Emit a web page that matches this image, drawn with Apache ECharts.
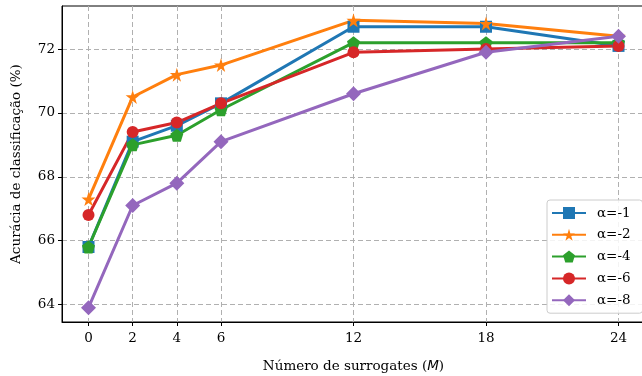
<!DOCTYPE html>
<html>
<head>
<meta charset="utf-8">
<script src="https://cdn.jsdelivr.net/npm/echarts@6/dist/echarts.min.js"></script>
<style>
  html, body { margin: 0; padding: 0; background: #fff; }
  #chart { width: 642px; height: 376px; }
</style>
</head>
<body>
<div id="chart"></div>
<script>
// surrogates M on x, accuracy (%) on y
const xTicks = [0, 2, 4, 6, 12, 18, 24];
const yTicks = [64, 66, 68, 70, 72];
const names = ['α=-1', 'α=-2', 'α=-4', 'α=-6', 'α=-8'];
const accA1 = [65.8, 69.1, 69.6, 70.3, 72.7, 72.7, 72.1];
const accA2 = [67.3, 70.5, 71.2, 71.5, 72.9, 72.8, 72.4];
const accA4 = [65.8, 69.0, 69.3, 70.1, 72.2, 72.2, 72.2];
const accA6 = [66.8, 69.4, 69.7, 70.3, 71.9, 72.0, 72.1];
const accA8 = [63.9, 67.1, 67.8, 69.1, 70.6, 71.9, 72.4];

const colors = ['#1f77b4', '#ff7f0e', '#2ca02c', '#d62728', '#9467bd'];
const star = 'path://M50,0 L61,35 L98,35 L68,57 L79,91 L50,70 L21,91 L32,57 L2,35 L39,35 Z';
const pentagon = 'path://M50,0 L100,38 L81,100 L19,100 L0,38 Z';
const symbols = ['rect', star, pentagon, 'circle', 'diamond'];
const sizes = [12, 14, 13, 12, 15];
const allData = [accA1, accA2, accA4, accA6, accA8];

const font = 'DejaVu Serif';
var myChart = echarts.init(document.getElementById('chart'));

const series = allData.map((vals, i) => ({
  name: names[i],
  type: 'line',
  data: xTicks.map((x, j) => [x, vals[j]]),
  symbol: symbols[i],
  symbolSize: sizes[i],
  showAllSymbol: true,
  lineStyle: { width: 3, color: colors[i] },
  itemStyle: { color: colors[i] },
  animation: false
}));

myChart.setOption({
  animation: false,
  grid: {
    left: 62, right: -3, top: 6, bottom: 54,
    outerBoundsMode: 'none',
    show: true, borderColor: '#000', borderWidth: 1
  },
  xAxis: {
    type: 'value',
    min: -1.2, max: 25.2,
    name: 'Número de surrogates ({i|M})',
    nameLocation: 'middle',
    nameGap: 37,
    nameTextStyle: {
      fontFamily: font, fontSize: 13.5, color: '#000',
      rich: { i: { fontFamily: 'DejaVu Sans', fontStyle: 'italic', fontSize: 13.5, color: '#000' } }
    },
    axisLine: { show: true, onZero: false, lineStyle: { color: '#000', width: 1 } },
    axisTick: { show: true, length: 4, customValues: xTicks, lineStyle: { color: '#000' } },
    axisLabel: { customValues: xTicks, margin: 9, fontFamily: font, fontSize: 13.5, color: '#000' },
    splitLine: { show: true, lineStyle: { color: '#b0b0b0', type: [5, 3], width: 1 } }
  },
  yAxis: {
    type: 'value',
    min: 63.45, max: 73.35,
    name: 'Acurácia de classificação (%)',
    nameLocation: 'middle',
    nameGap: 39,
    nameTextStyle: { fontFamily: font, fontSize: 13.5, color: '#000' },
    axisLine: { show: true, onZero: false, lineStyle: { color: '#000', width: 1 } },
    axisTick: { show: true, length: 4, customValues: yTicks, lineStyle: { color: '#000' } },
    axisLabel: { customValues: yTicks, margin: 7, fontFamily: font, fontSize: 13.5, color: '#000' },
    splitLine: { show: true, lineStyle: { color: '#b0b0b0', type: [5, 3], width: 1 } }
  },
  legend: {
    data: names,
    orient: 'vertical',
    left: 547, top: 200,
    itemWidth: 34, itemHeight: 15,
    itemGap: 7.8,
    padding: [6, 12, 6, 4],
    backgroundColor: 'rgba(255,255,255,0.85)',
    borderColor: '#cccccc', borderWidth: 1, borderRadius: 3,
    textStyle: { fontFamily: font, fontSize: 13.5, color: '#000', padding: [0, 0, 0, 6] }
  },
  series: series
});
</script>
</body>
</html>
